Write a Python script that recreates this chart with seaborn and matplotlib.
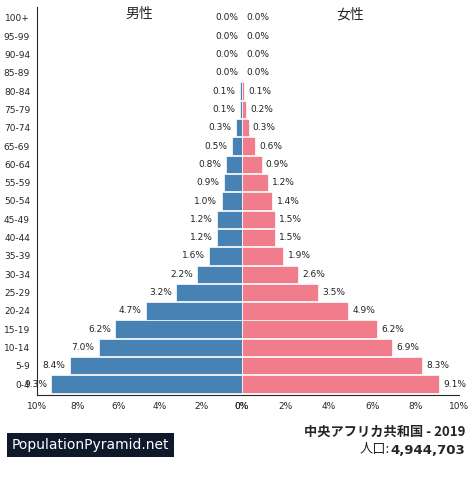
import matplotlib
matplotlib.use("Agg")
import matplotlib.pyplot as plt
import pandas as pd
import seaborn as sns

sns.set_style("white")
plt.rcParams["font.family"] = ["DejaVu Sans", "Noto Sans CJK JP"]

AGE_GROUPS = ["100+", "95-99", "90-94", "85-89", "80-84", "75-79", "70-74", "65-69", "60-64",
              "55-59", "50-54", "45-49", "40-44", "35-39", "30-34", "25-29", "20-24",
              "15-19", "10-14", "5-9", "0-4"]
MALE = [0.0, 0.0, 0.0, 0.0, 0.1, 0.1, 0.3, 0.5, 0.8, 0.9, 1.0, 1.2, 1.2, 1.6, 2.2, 3.2, 4.7,
        6.2, 7.0, 8.4, 9.3]
FEMALE = [0.0, 0.0, 0.0, 0.0, 0.1, 0.2, 0.3, 0.6, 0.9, 1.2, 1.4, 1.5, 1.5, 1.9, 2.6, 3.5, 4.9,
          6.2, 6.9, 8.3, 9.1]
TICKS = [0, 2, 4, 6, 8, 10]

df = pd.DataFrame({"age": AGE_GROUPS, "male": MALE, "female": FEMALE})

W, H = 474, 478
fig = plt.figure(figsize=(W / 100, H / 100), dpi=100)
bottom, height = (H - 395) / H, 388 / H
ax_m = fig.add_axes([37 / W, bottom, 205 / W, height])
ax_f = fig.add_axes([242 / W, bottom, 217 / W, height])

sns.barplot(data=df, x="male", y="age", orient="h", color="#4682B4", saturation=1,
            width=0.95, edgecolor="white", linewidth=0.5, ax=ax_m)
sns.barplot(data=df, x="female", y="age", orient="h", color="#F07C8C", saturation=1,
            width=0.95, edgecolor="white", linewidth=0.5, ax=ax_f)

ax_m.set_xlim(10, 0)
ax_f.set_xlim(0, 10)
for ax in (ax_m, ax_f):
    ax.set_ylim(len(AGE_GROUPS) - 0.4, -0.6)
    ax.set_xticks(TICKS)
    ax.set_xticklabels([f"{t}%" for t in TICKS], fontsize=6.5)
    ax.set_xlabel("")
    ax.set_ylabel("")
    ax.tick_params(axis="x", length=3, pad=2)
    for s in ax.spines.values():
        s.set_visible(False)
    ax.spines["bottom"].set_visible(True)
ax_m.tick_params(axis="y", labelsize=6.5, length=3, pad=2)
ax_m.spines["left"].set_visible(True)
ax_f.set_yticks([])

for i, (m, f) in enumerate(zip(MALE, FEMALE)):
    ax_m.text(m + 0.2, i, f"{m:.1f}%", ha="right", va="center", fontsize=6.5, color="#222")
    ax_f.text(f + 0.2, i, f"{f:.1f}%", ha="left", va="center", fontsize=6.5, color="#222")

ax_m.text(5, -0.2, "男性", ha="center", va="center", fontsize=10, family="Noto Sans CJK JP")
ax_f.text(5, -0.2, "女性", ha="center", va="center", fontsize=10, family="Noto Sans CJK JP")

fig.text(12 / W, 1 - 445 / H, "PopulationPyramid.net", color="white", fontsize=10,
         va="center", ha="left",
         bbox=dict(boxstyle="square,pad=0.35", facecolor="#0E1A2B", edgecolor="none"))
fig.text(465 / W, 1 - 432 / H, "中央アフリカ共和国 - 2019", ha="right", va="center",
         fontsize=9.5, fontweight="bold", family=["Noto Sans CJK JP", "DejaVu Sans"])
fig.text(465 / W, 1 - 450 / H, "4,944,703", ha="right", va="center", fontsize=9.5,
         fontweight="bold")
fig.text(390 / W, 1 - 450 / H, "人口:", ha="right", va="center", fontsize=9.5,
         family=["Noto Sans CJK JP", "DejaVu Sans"])

fig.savefig("out.png", dpi=100)
